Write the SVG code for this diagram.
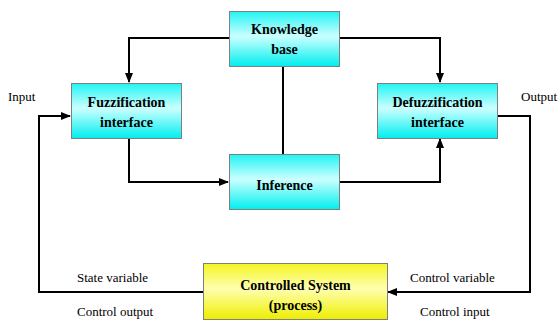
<svg xmlns="http://www.w3.org/2000/svg" width="558" height="321" viewBox="0 0 558 321">
<defs>
<linearGradient id="cyan" x1="0" y1="0" x2="0" y2="1">
<stop offset="0" stop-color="#22f4f4"/>
<stop offset="0.45" stop-color="#ccffff"/>
<stop offset="1" stop-color="#00eeee"/>
</linearGradient>
<linearGradient id="yellow" x1="0" y1="0" x2="0" y2="1">
<stop offset="0" stop-color="#f4f422"/>
<stop offset="0.45" stop-color="#ffffb0"/>
<stop offset="1" stop-color="#eeee00"/>
</linearGradient>
<marker id="arr" markerWidth="10" markerHeight="8" refX="9" refY="4" orient="auto" markerUnits="userSpaceOnUse">
<path d="M0,0 L10,4 L0,8 Z" fill="#000"/>
</marker>
</defs>
<style>
.box{stroke:#7f7f7f;stroke-width:1}
.c{fill:url(#cyan)}
.y{fill:url(#yellow)}
text{font-family:'Liberation Serif','Times New Roman','DejaVu Serif',serif}
.t{font-weight:bold;font-size:14px;text-anchor:middle;fill:#000}
.l{font-size:13px;fill:#000}
.e{fill:none;stroke:#000;stroke-width:2}
</style>
<rect width="558" height="321" fill="#fff"/>
<g id="connectors">
<polyline class="e" points="229,38 129,38 129,82" marker-end="url(#arr)"/>
<polyline class="e" points="340,38 440,38 440,82" marker-end="url(#arr)"/>
<line class="e" x1="283" y1="66" x2="283" y2="154"/>
<polyline class="e" points="129,138 129,182 228,182" marker-end="url(#arr)"/>
<polyline class="e" points="340,182 440,182 440,139" marker-end="url(#arr)"/>
<polyline class="e" points="498,116 530,116 530,292 388,292" marker-end="url(#arr)"/>
<polyline class="e" points="203,292 39,292 39,116 70,116" marker-end="url(#arr)"/>
</g>
<g id="knowledge">
<rect class="box c" x="229.5" y="11.5" width="110" height="55"/>
<text class="t" x="284.5" y="34" font-family="Liberation Serif, serif">Knowledge</text>
<text class="t" x="284.5" y="54" font-family="Liberation Serif, serif">base</text>
</g>
<g id="fuzzification">
<rect class="box c" x="71.5" y="83.5" width="110" height="55"/>
<text class="t" x="126.5" y="107">Fuzzification</text>
<text class="t" x="126.5" y="127">interface</text>
</g>
<g id="defuzzification">
<rect class="box c" x="377.5" y="83.5" width="120" height="55"/>
<text class="t" x="437.5" y="107">Defuzzification</text>
<text class="t" x="437.5" y="127">interface</text>
</g>
<g id="inference">
<rect class="box c" x="229.5" y="154.5" width="110" height="55"/>
<text class="t" x="284.5" y="190">Inference</text>
</g>
<g id="system">
<rect class="box y" x="203.5" y="263.5" width="184" height="56"/>
<text class="t" x="295.5" y="290">Controlled System</text>
<text class="t" x="295.5" y="310">(process)</text>
</g>
<g id="labels">
<text class="l" x="8" y="101">Input</text>
<text class="l" x="521" y="101">Output</text>
<text class="l" x="77" y="282">State variable</text>
<text class="l" x="77" y="316">Control output</text>
<text class="l" x="410" y="282">Control variable</text>
<text class="l" x="420" y="316">Control input</text>
</g>
</svg>
